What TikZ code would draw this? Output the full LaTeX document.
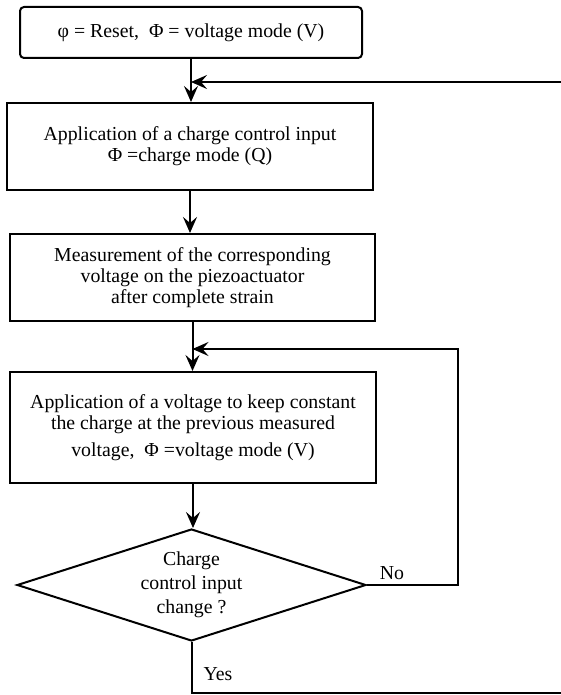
\documentclass[tikz,border=0pt]{standalone}
\usepackage{fontspec}
\setmainfont{Liberation Serif}
\usetikzlibrary{arrows.meta,shapes.geometric}

\tikzset{
  box/.style={draw, line width=1pt, rectangle, align=center, inner sep=0pt},
  startbox/.style={box, rounded corners=2pt},
  decision/.style={draw, line width=1pt, diamond, aspect=3, inner sep=0pt, align=center},
  flow/.style={line width=1pt, -{Stealth[length=8pt,width=7pt,inset=3pt]}},
  plain/.style={line width=1pt}
}

\begin{document}
\begin{tikzpicture}[x=0.5pt, y=-0.5pt, font=\fontsize{9.9}{10.4}\selectfont]
  %%%%% START %%%%%
  \useasboundingbox (0,0) rectangle (561,695);

  \node[startbox, minimum width=171pt, minimum height=25.5pt] (start) at (191, 32.5)
    {φ = Reset,\ \ Φ = voltage mode (V)};

  \node[box, minimum width=183pt, minimum height=43.5pt] (charge) at (190, 146.5)
    {Application of a charge control input\\Φ =charge mode (Q)};

  \node[box, minimum width=182.5pt, minimum height=43.5pt] (measure) at (192.5, 277.5)
    {Measurement of the corresponding\\voltage on the piezoactuator\\after complete strain};

  \node[box, minimum width=183pt, minimum height=55.5pt] (hold) at (193, 427.5)
    {Application of a voltage to keep constant\\the charge at the previous measured\\[3pt]voltage,\ \ Φ =voltage mode (V)};

  \node[decision, minimum width=174.5pt, minimum height=56pt] (check) at (191.5, 585)
    {Charge\\[1.6pt]control input\\[1.6pt]change ?};

  % loop ends at the right
  \coordinate (back) at (561, 82);
  \coordinate (loop) at (458, 349);
  \coordinate (yesend) at (561, 693);

  \draw[flow] (start.south) -- (start.south |- charge.north);
  \draw[flow] (back) -- (back -| start.south);
  \draw[flow] (charge.south) -- (charge.south |- measure.north);
  \draw[flow] (measure.south) -- (measure.south |- hold.north);
  \draw[flow] (hold.south) -- (hold.south |- check.north);

  % No: back to the voltage step
  \draw[flow] (check.east) -- (check.east -| loop) -- (loop) -- (loop -| measure.south);
  \node (no) at (392, 573) {No};

  % Yes: out to the right
  \draw[plain] (check.south) -- (check.south |- yesend) -- (yesend);
  \node (yes) at (218, 674) {Yes};

  %%%%% END %%%%%
\end{tikzpicture}
\end{document}
